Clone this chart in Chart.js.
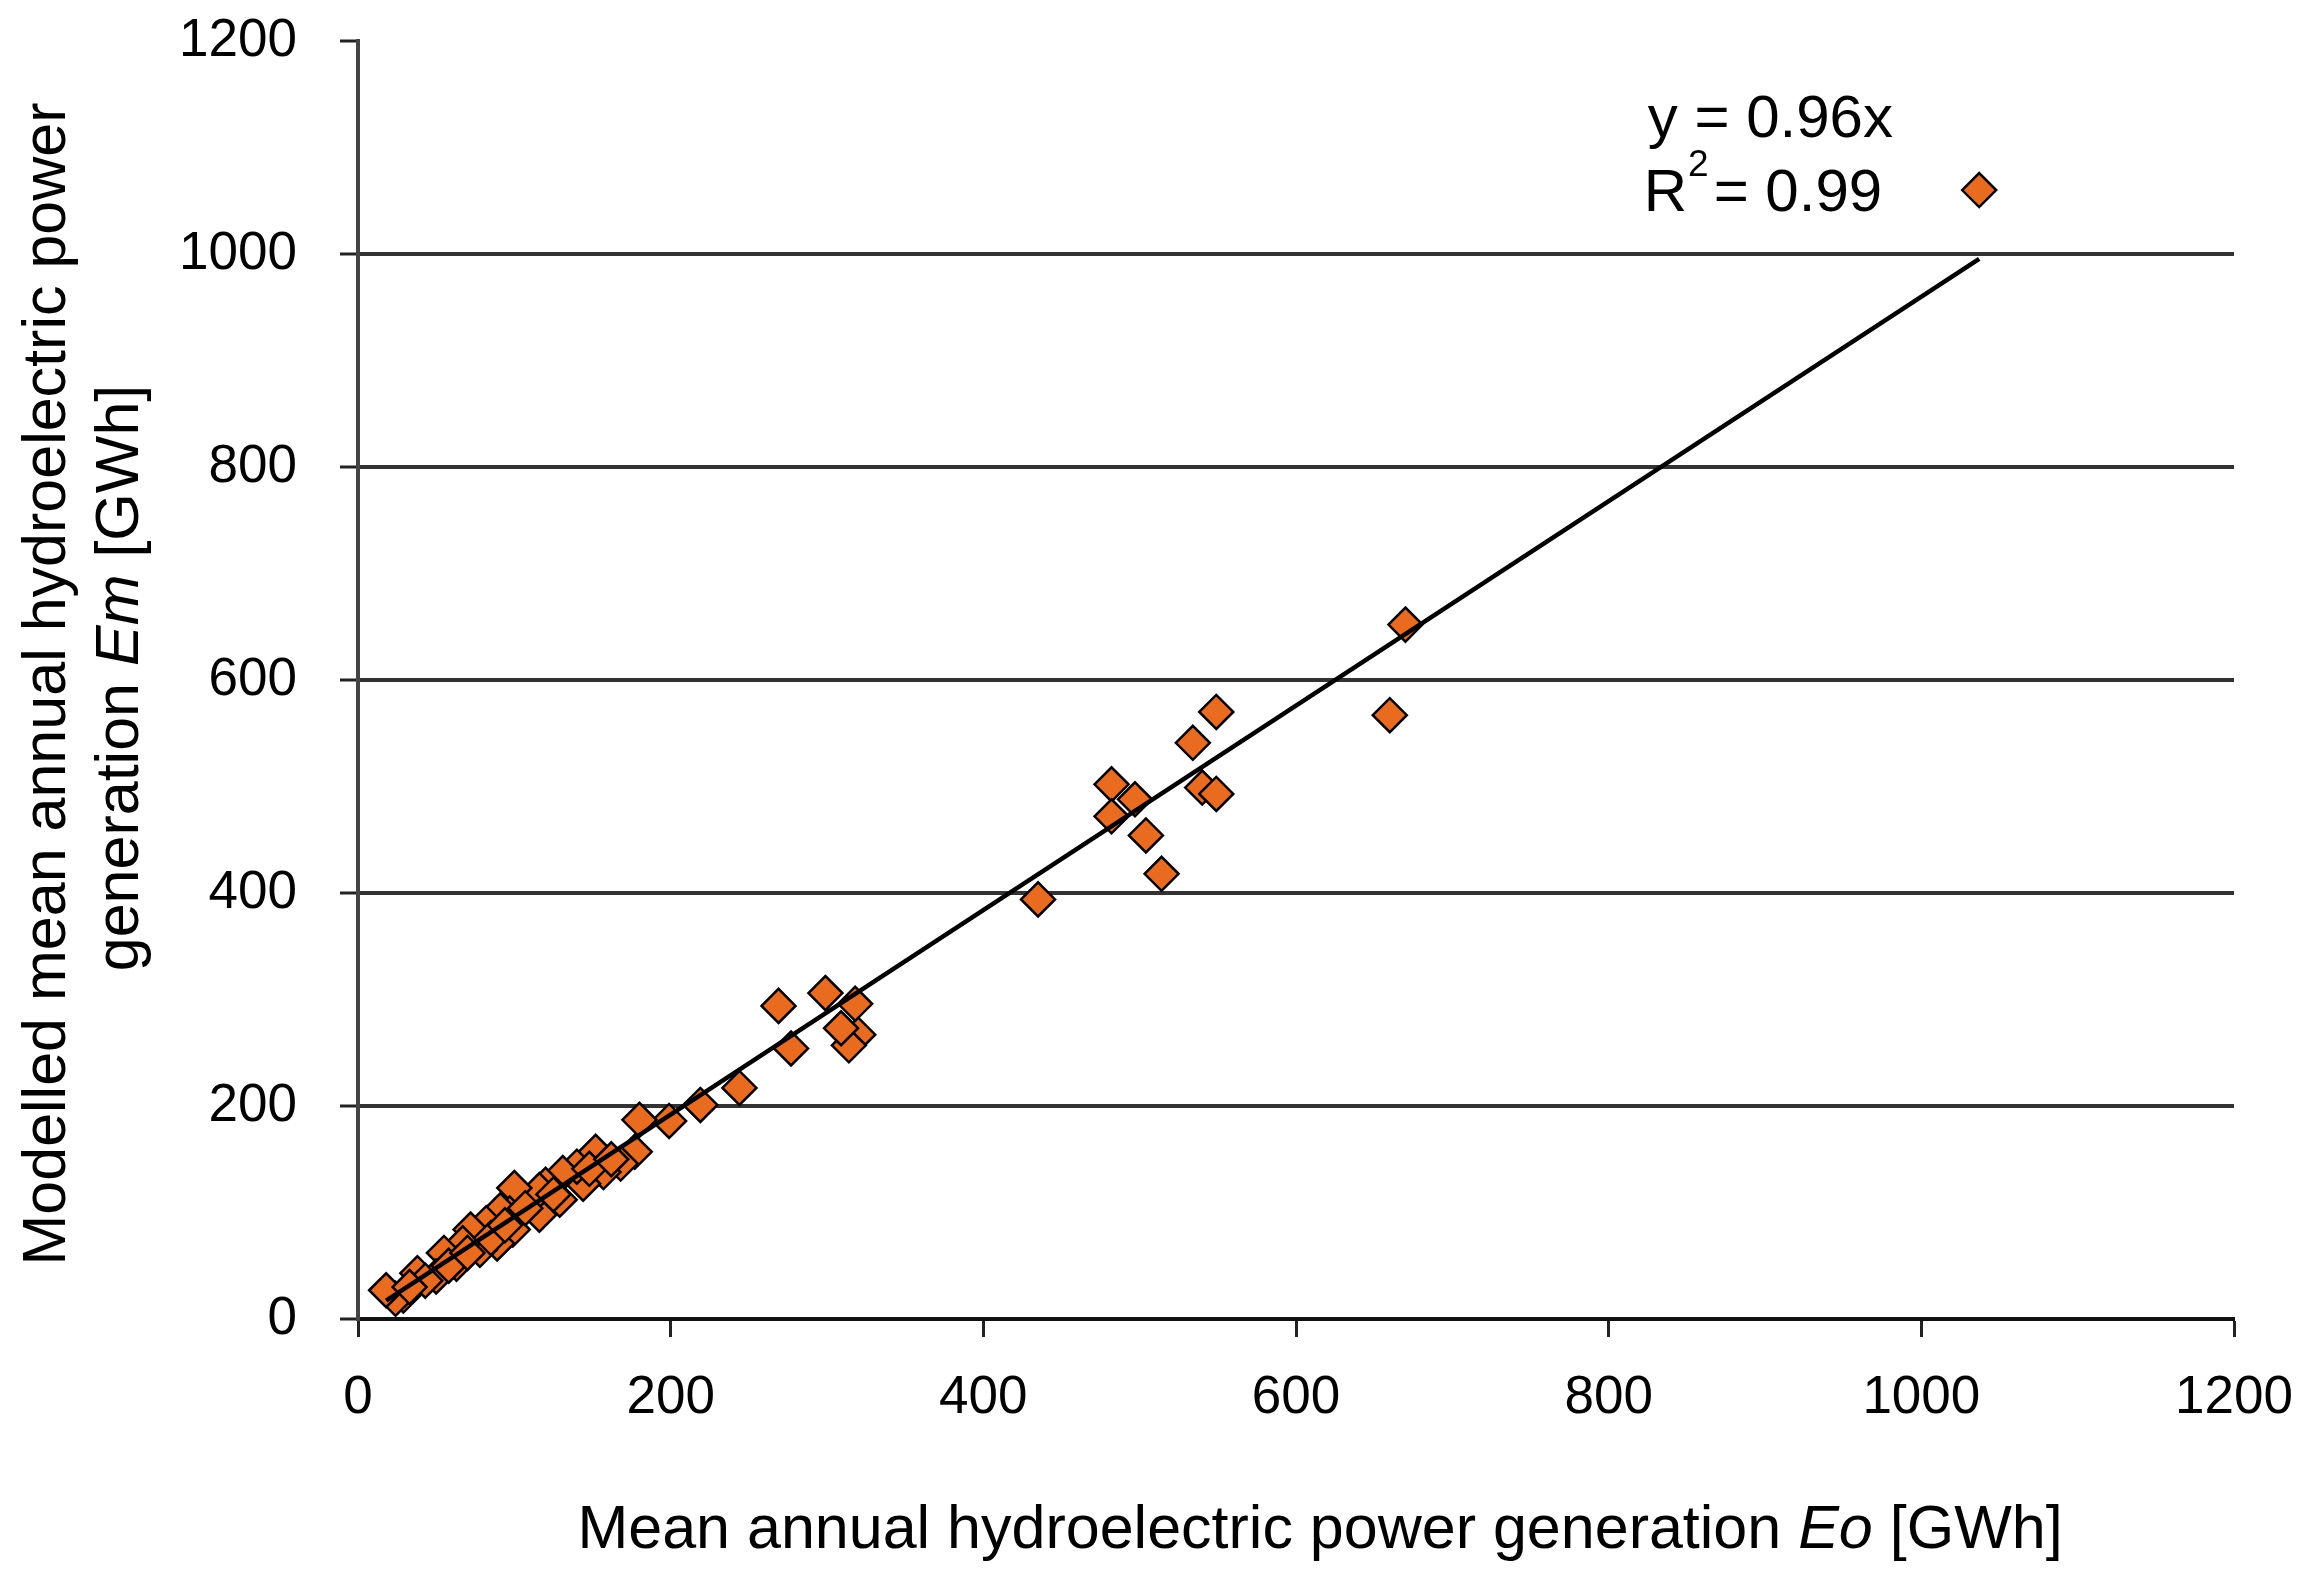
<!DOCTYPE html>
<html>
<head>
<meta charset="utf-8">
<script src="https://cdn.jsdelivr.net/npm/chart.js@4.4.1/dist/chart.umd.min.js"></script>
<style>
    html, body { margin: 0; padding: 0; background: #fff; }
    #wrap { width: 2303px; height: 1578px; position: relative; }
</style>
</head>
<body>
<div id="wrap"><canvas id="hydroChart"></canvas></div>
<script>
// observed (Eo) and modelled (Em) mean annual generation, GWh
const observedEo = [1037, 670, 660, 549, 534, 540, 549, 497, 482, 482, 504, 514, 435,
    320, 314, 309, 318, 299, 269, 277, 244, 219, 199, 180, 177, 168, 157, 152, 144, 140,
    131, 129, 120, 116, 116, 100, 99, 97, 91, 89, 82, 78, 72, 67, 63, 55, 50, 38, 29, 24,
    18, 43, 58, 85, 107, 125, 148, 162, 33, 70, 94];
const modelledEm = [1060, 652, 567, 570, 541, 499, 493, 488, 502, 472, 454, 418, 394,
    267, 257, 273, 296, 306, 294, 254, 217, 201, 186, 187, 157, 146, 138, 157, 127, 143,
    137, 112, 126, 98, 121, 123, 84, 99, 102, 71, 90, 65, 84, 71, 52, 62, 40, 43, 22, 19,
    27, 36, 50, 76, 104, 117, 141, 150, 30, 62, 88];
const axisTicks = [0, 200, 400, 600, 800, 1000, 1200];
const trendSlope = 0.96;
const rSquared = 0.99;

const fontFamily = "'Liberation Sans', Arial, sans-serif";
const markerColor = '#E96B1F';
const titleSize = 61;

const points = observedEo.map((x, i) => ({ x: x, y: modelledEm[i] }));
const xMin = Math.min(...observedEo);
const xMax = Math.max(...observedEo);
const trendPoints = [xMin, xMax].map(x => ({ x: x, y: trendSlope * x }));

function drawSegments(ctx, segments, x, y, size) {
    let total = 0;
    segments.forEach(s => {
        ctx.font = (s.italic ? 'italic ' : '') + size + 'px ' + fontFamily;
        total += ctx.measureText(s.text).width;
    });
    let cx = x - total / 2;
    segments.forEach(s => {
        ctx.font = (s.italic ? 'italic ' : '') + size + 'px ' + fontFamily;
        ctx.fillText(s.text, cx, y);
        cx += ctx.measureText(s.text).width;
    });
}

const textPlugin = {
    id: 'textPlugin',
    afterDraw(chart) {
        const { ctx, chartArea, scales } = chart;
        ctx.save();
        ctx.fillStyle = '#000';
        ctx.textAlign = 'left';
        ctx.textBaseline = 'alphabetic';

        // x axis title
        const midX = (chartArea.left + chartArea.right) / 2 + 24;
        drawSegments(ctx, [
            { text: 'Mean annual hydroelectric power generation ' },
            { text: 'Eo', italic: true },
            { text: ' [GWh]' }
        ], midX, chartArea.bottom + 229, titleSize);

        // y axis title, two lines
        const midY = (chartArea.top + chartArea.bottom) / 2;
        ctx.save();
        ctx.translate(chartArea.left - 293, midY + 4);
        ctx.rotate(-Math.PI / 2);
        drawSegments(ctx, [{ text: 'Modelled mean annual hydroelectric power' }], 0, 0, titleSize);
        ctx.restore();
        ctx.save();
        ctx.translate(chartArea.left - 220, midY - 2);
        ctx.rotate(-Math.PI / 2);
        drawSegments(ctx, [
            { text: 'generation ' },
            { text: 'Em', italic: true },
            { text: ' [GWh]' }
        ], 0, 0, titleSize);
        ctx.restore();

        // trendline equation
        const ex = scales.x.getPixelForValue(825);
        const ey1 = scales.y.getPixelForValue(1110);
        const ey2 = scales.y.getPixelForValue(1040);
        ctx.font = '60px ' + fontFamily;
        ctx.fillText('y = ' + trendSlope.toFixed(2) + 'x', ex, ey1);
        ctx.fillText('R', ex - 4, ey2);
        let rx = ex - 4 + ctx.measureText('R').width + 1;
        ctx.font = '37px ' + fontFamily;
        ctx.fillText('2', rx, ey2 - 35);
        rx += ctx.measureText('2').width + 5;
        ctx.font = '60px ' + fontFamily;
        ctx.fillText('= ' + rSquared.toFixed(2), rx, ey2);
        ctx.restore();
    }
};

const tickFont = { family: fontFamily, size: 53 };

function noPadding(s) {
    s.paddingTop = 0;
    s.paddingBottom = 0;
    s.paddingLeft = 0;
    s.paddingRight = 0;
}

new Chart(document.getElementById('hydroChart'), {
    type: 'scatter',
    data: {
        datasets: [{
            type: 'line',
            data: trendPoints,
            borderColor: '#000',
            borderWidth: 4.5,
            pointRadius: 0,
            fill: false,
            order: 0
        }, {
            data: points,
            pointStyle: 'rectRot',
            pointRadius: 17,
            pointBackgroundColor: markerColor,
            pointBorderColor: '#000',
            pointBorderWidth: 2.5,
            order: 1
        }]
    },
    options: {
        responsive: true,
        maintainAspectRatio: false,
        animation: false,
        layout: { padding: { top: 41, right: 69, left: 0, bottom: 0 } },
        plugins: {
            legend: { display: false },
            tooltip: { enabled: false }
        },
        scales: {
            x: {
                type: 'linear',
                min: 0,
                max: 1200,
                afterBuildTicks: s => { s.ticks = axisTicks.map(v => ({ value: v })); },
                afterFit: s => { s.height = 259; noPadding(s); },
                ticks: { color: '#000', font: tickFont, padding: 30, maxRotation: 0, callback: v => String(v) },
                grid: {
                    drawOnChartArea: false,
                    tickLength: 18,
                    tickWidth: 3,
                    tickColor: '#222'
                },
                border: { color: '#111', width: 4 }
            },
            y: {
                type: 'linear',
                min: 0,
                max: 1200,
                afterBuildTicks: s => { s.ticks = axisTicks.map(v => ({ value: v })); },
                afterFit: s => { s.width = 358; noPadding(s); },
                ticks: { color: '#000', font: tickFont, padding: 43, callback: v => String(v) },
                grid: {
                    color: c => (c.tick && c.tick.value === 1200) ? 'rgba(0,0,0,0)' : '#333',
                    lineWidth: 4,
                    tickLength: 18,
                    tickWidth: 3,
                    tickColor: '#222'
                },
                border: { color: '#444', width: 4 }
            }
        }
    },
    plugins: [textPlugin]
});
</script>
</body>
</html>
